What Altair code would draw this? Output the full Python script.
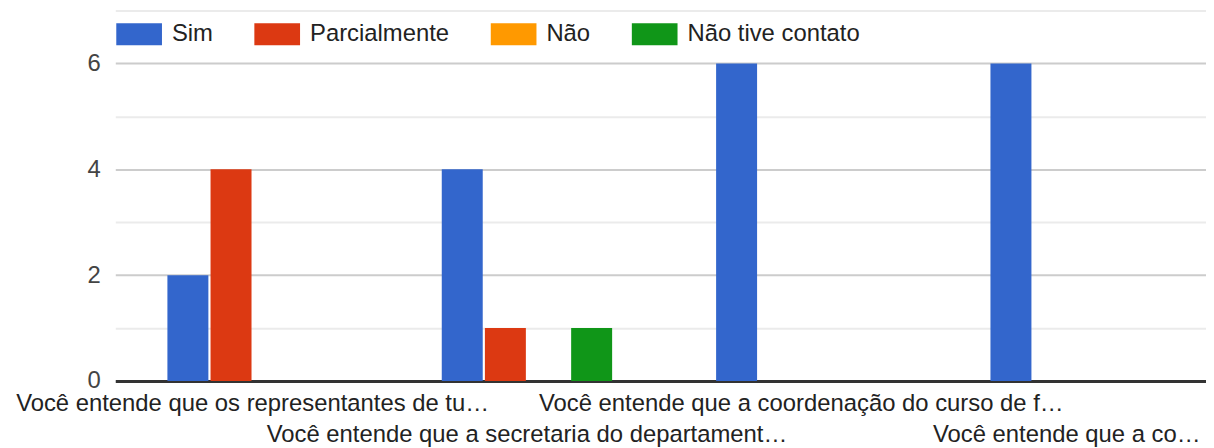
import altair as alt
import pandas as pd

categories = [
    "Você entende que os representantes de tu…",
    "Você entende que a secretaria do departament…",
    "Você entende que a coordenação do curso de f…",
    "Você entende que a co…",
]
series = ["Sim", "Parcialmente", "Não", "Não tive contato"]
colors = ["#3366cc", "#dc3912", "#ff9900", "#109618"]
values = {
    "Sim": [2, 4, 6, 6],
    "Parcialmente": [4, 1, 0, 0],
    "Não": [0, 0, 0, 0],
    "Não tive contato": [0, 1, 0, 0],
}
y_ticks = [0, 1, 2, 3, 4, 5, 6, 7]

rows = []
for s in series:
    for c, v in zip(categories, values[s]):
        rows.append({"pergunta": c, "resposta": s, "n": v})
df = pd.DataFrame(rows)

FONT = "Arial, 'Liberation Sans', sans-serif"

second_row = " || ".join(f"datum.value == '{categories[i]}'" for i in range(1, len(categories), 2))
label_expr = f"({second_row}) ? ['', datum.value] : datum.value"

chart = alt.Chart(df).mark_bar().encode(
    x=alt.X(
        "pergunta:N",
        sort=categories,
        title=None,
        scale=alt.Scale(paddingInner=0.379, paddingOuter=0.19),
        axis=alt.Axis(
            labelExpr=label_expr,
            labelAngle=0,
            labelLimit=0,
            labelOverlap=False,
            labelFont=FONT,
            labelFontSize=24,
            labelColor="#222222",
            labelLineHeight=31,
            labelBaseline="top",
            labelPadding=11,
            labelOffset={"condition": {"test": f"datum.value == '{categories[-1]}'", "value": -9}, "value": 0},
            ticks=False,
            domainColor="#333333",
            domainWidth=3,
            grid=False,
        ),
    ),
    xOffset=alt.XOffset("resposta:N", sort=series, scale=alt.Scale(paddingInner=0.05)),
    y=alt.Y(
        "n:Q",
        title=None,
        scale=alt.Scale(domain=[0, 7], nice=False),
        axis=alt.Axis(
            values=y_ticks,
            labelExpr="datum.value % 2 == 0 ? datum.label : ''",
            labelFont=FONT,
            labelFontSize=24,
            labelColor="#444444",
            labelPadding=15,
            ticks=False,
            domain=False,
            gridColor={"condition": {"test": "datum.value % 2 == 0", "value": "#cccccc"}, "value": "#ebebeb"},
            gridWidth=2,
        ),
    ),
    color=alt.Color(
        "resposta:N",
        sort=series,
        scale=alt.Scale(domain=series, range=colors),
        legend=alt.Legend(
            title=None,
            orient="none",
            legendX=1,
            legendY=1,
            direction="horizontal",
            symbolType="M-1,-0.48H1V0.48H-1Z",
            symbolSize=2116,
            symbolStrokeWidth=0,
            symbolOpacity=1,
            labelFont=FONT,
            labelFontSize=24,
            labelColor="#222222",
            labelLimit=0,
            labelOffset=10,
            columnPadding=41,
        ),
    ),
).properties(
    width=1105,
    height=373,
    padding={"left": 108, "top": 1, "right": -7, "bottom": 70},
    autosize=alt.AutoSizeParams(type="none"),
).configure_view(stroke=None)

chart.save("out.html", embed_options={"renderer": "svg", "actions": False})
